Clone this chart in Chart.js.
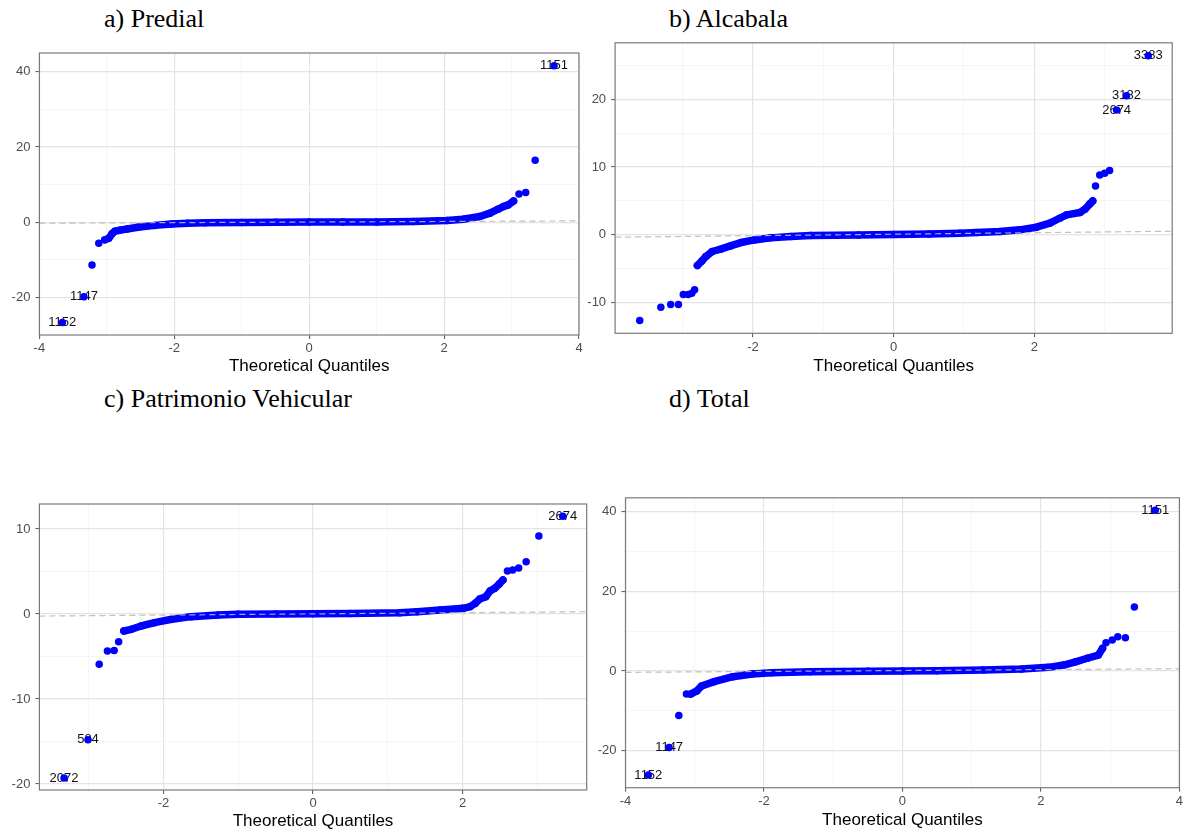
<!DOCTYPE html>
<html>
<head>
<meta charset="utf-8">
<script src="https://cdn.jsdelivr.net/npm/chart.js@4"></script>
<style>
  body { margin: 0; background: #fff; width: 1185px; height: 832px; position: relative; overflow: hidden; }
  .t { position: absolute; font-family: "Liberation Serif", "Times New Roman", serif; font-size: 26px; line-height: 26px; color: #000; white-space: nowrap; }
  canvas { position: absolute; }
</style>
</head>
<body>
<div class="t" style="left:104px;top:6px">a) Predial</div>
<div class="t" style="left:669px;top:6px">b) Alcabala</div>
<div class="t" style="left:104px;top:386px">c) Patrimonio Vehicular</div>
<div class="t" style="left:669px;top:386px">d) Total</div>

<canvas id="qqA" width="590" height="345" style="left:0;top:40px"></canvas>
<canvas id="qqB" width="600" height="355" style="left:580px;top:30px"></canvas>
<canvas id="qqC" width="595" height="342" style="left:0;top:490px"></canvas>
<canvas id="qqD" width="605" height="347" style="left:580px;top:485px"></canvas>

<script>
// a) Predial
const predialBandQ = [-3.03, -2.97, -2.92, -2.88, -2.80, -2.70, -2.54, -2.29, -2.04, -1.80, -1.55, -1.00, -0.50, 0, 0.50, 1.00, 1.54, 2.04, 2.28, 2.53, 2.68, 2.80, 2.88, 2.95, 3.03];
const predialBandRes = [-4.7, -4.25, -3.0, -2.4, -2.1, -1.8, -1.33, -0.85, -0.45, -0.27, -0.12, -0.05, 0, 0.02, 0.05, 0.08, 0.16, 0.43, 0.8, 1.5, 2.4, 3.45, 4.15, 4.6, 5.66];
const predialQ = [-3.66, -3.34, -3.22, -3.12, 3.11, 3.21, 3.35, 3.63];
const predialRes = [-26.7, -19.8, -11.4, -5.6, 7.5, 7.9, 16.5, 41.6];
const predialIds = ["1152", "1147", "", "", "", "", "", "1151"];
const predialLine = [0.04, 0.078]; // intercept, slope

// b) Alcabala
const alcabalaBandQ = [-2.79, -2.73, -2.67, -2.58, -2.46, -2.32, -2.17, -1.98, -1.75, -1.46, -1.18, -0.50, 0, 0.50, 0.94, 1.18, 1.51, 1.79, 2.03, 2.22, 2.36, 2.46, 2.65, 2.72, 2.79, 2.83];
const alcabalaBandRes = [-4.5, -3.9, -3.2, -2.45, -2.1, -1.62, -1.13, -0.74, -0.44, -0.25, -0.1, 0, 0.05, 0.12, 0.25, 0.34, 0.49, 0.74, 1.13, 1.72, 2.45, 2.95, 3.3, 3.78, 4.57, 5.0];
const alcabalaQ = [-3.61, -3.31, -3.17, -3.06, -2.99, -2.92, -2.87, -2.83, 2.87, 2.93, 3.00, 3.07, 3.17, 3.31, 3.62];
const alcabalaRes = [-12.6, -10.65, -10.26, -10.26, -8.8, -8.8, -8.6, -8.1, 7.2, 8.84, 9.08, 9.47, 18.4, 20.5, 26.4];
const alcabalaIds = ["", "", "", "", "", "", "", "", "", "", "", "", "2674", "3182", "3383"];
const alcabalaLine = [0.1, 0.111];

// c) Patrimonio Vehicular
const vehicularBandQ = [-2.53, -2.43, -2.30, -2.12, -1.89, -1.63, -1.27, -1.00, -0.50, 0, 0.50, 1.16, 1.39, 1.70, 2.01, 2.10, 2.17, 2.23, 2.31, 2.37, 2.43, 2.49, 2.54];
const vehicularBandRes = [-2.0, -1.8, -1.41, -1.02, -0.62, -0.31, -0.12, -0.04, 0, 0.03, 0.07, 0.15, 0.27, 0.47, 0.67, 0.86, 1.26, 1.76, 2.04, 2.74, 3.02, 3.53, 4.0];
const vehicularQ = [-3.33, -3.01, -2.86, -2.75, -2.66, -2.60, 2.60, 2.67, 2.75, 2.85, 3.02, 3.34];
const vehicularRes = [-19.3, -14.8, -5.9, -4.35, -4.3, -3.25, 5.06, 5.18, 5.4, 6.16, 9.18, 11.5];
const vehicularIds = ["2072", "584", "", "", "", "", "", "", "", "", "", "2674"];
const vehicularLine = [0.015, 0.07];

// d) Total
const totalBandQ = [-3.06, -2.97, -2.90, -2.72, -2.45, -2.17, -1.89, -1.33, -0.50, 0, 0.50, 1.17, 1.72, 2.11, 2.33, 2.50, 2.67, 2.83, 2.89];
const totalBandRes = [-5.8, -5.0, -3.76, -2.67, -1.42, -0.75, -0.42, -0.17, -0.05, 0, 0.05, 0.25, 0.5, 0.92, 1.5, 2.3, 3.2, 4.0, 5.7];
const totalQ = [-3.67, -3.37, -3.23, -3.12, 2.94, 3.03, 3.11, 3.22, 3.35, 3.65];
const totalRes = [-26.1, -19.2, -11.2, -5.8, 7.1, 7.8, 8.6, 8.35, 16.1, 40.35];
const totalIds = ["1152", "1147", "", "", "", "", "", "", "", "1151"];
const totalLine = [0.125, 0.114];

// axis ticks (major get a label, minor only a light grid line)
const xMajorWide = [-4, -2, 0, 2, 4];
const xMinorWide = [-3, -1, 1, 3];
const xMajorNarrow = [-2, 0, 2];
const xMinorNarrow = [-3, -1, 1, 3];
const predialYMajor = [-20, 0, 20, 40];
const predialYMinor = [-10, 10, 30];
const alcabalaYMajor = [-10, 0, 10, 20];
const alcabalaYMinor = [-5, 5, 15, 25];
const vehicularYMajor = [-20, -10, 0, 10];
const vehicularYMinor = [-15, -5, 5];
const totalYMajor = [-20, 0, 20, 40];
const totalYMinor = [-10, 10, 30];

Chart.defaults.font.family = '"Liberation Sans", Arial, sans-serif';
Chart.defaults.animation = false;

function pts(q, r) {
  return q.map((v, i) => ({ x: v, y: r[i] }));
}

const borderBox = {
  id: 'borderBox',
  afterDraw(chart) {
    const a = chart.chartArea;
    const c = chart.ctx;
    c.save();
    c.strokeStyle = '#7a7a7a';
    c.lineWidth = 1.2;
    c.strokeRect(a.left, a.top, a.right - a.left, a.bottom - a.top);
    c.restore();
  }
};

// point ids go under the dots, like in the original
const pointIds = {
  id: 'pointIds',
  beforeDatasetsDraw(chart) {
    const ds = chart.data.datasets.find(d => d.ids);
    if (!ds) return;
    const c = chart.ctx;
    const xs = chart.scales.x, ys = chart.scales.y;
    c.save();
    c.font = '13px "Liberation Sans", Arial, sans-serif';
    c.fillStyle = '#111';
    c.textAlign = 'center';
    c.textBaseline = 'middle';
    ds.data.forEach((p, i) => {
      if (ds.ids[i]) c.fillText(ds.ids[i], xs.getPixelForValue(p.x), ys.getPixelForValue(p.y));
    });
    c.restore();
  }
};

function axis(min, max, major, minor, fit, isX, extra) {
  const all = major.concat(minor).sort((a, b) => a - b);
  const isMajor = ctx => ctx.tick && major.includes(ctx.tick.value);
  const cfg = {
    type: 'linear',
    min: min,
    max: max,
    afterBuildTicks: s => { s.ticks = all.map(v => ({ value: v })); },
    ticks: {
      autoSkip: false,
      maxRotation: 0,
      padding: isX ? 2 : 5,
      color: '#4d4d4d',
      font: { size: 13 },
      callback: v => major.includes(v) ? String(v) : ''
    },
    grid: {
      color: ctx => isMajor(ctx) ? '#e4e4e4' : '#f2f2f2',
      lineWidth: ctx => isMajor(ctx) ? 1.2 : 0.8,
      tickColor: ctx => isMajor(ctx) ? '#555' : 'rgba(0,0,0,0)',
      tickWidth: 1,
      tickLength: 4
    },
    border: { display: false }
  };
  if (isX) {
    cfg.afterFit = s => { s.height = fit; };
    cfg.title = {
      display: true,
      text: 'Theoretical Quantiles',
      color: '#000',
      font: { size: 17 },
      padding: { top: 0, bottom: extra }
    };
  } else {
    cfg.afterFit = s => { s.width = fit; };
  }
  return cfg;
}

function qqChart(id, p) {
  const lineData = [
    { x: p.xMin, y: p.line[0] + p.line[1] * p.xMin },
    { x: p.xMax, y: p.line[0] + p.line[1] * p.xMax }
  ];
  new Chart(id, {
    type: 'scatter',
    data: {
      datasets: [
        {
          data: lineData,
          showLine: true,
          borderColor: 'rgba(185,185,185,0.9)',
          borderWidth: 1.2,
          borderDash: [6, 4],
          pointRadius: 0
        },
        {
          data: pts(p.bandQ, p.bandRes),
          showLine: true,
          borderColor: '#0000ff',
          backgroundColor: '#0000ff',
          borderWidth: 7.5,
          borderCapStyle: 'round',
          borderJoinStyle: 'round',
          pointRadius: 3.75,
          pointBorderWidth: 0
        },
        {
          data: pts(p.q, p.res),
          ids: p.ids,
          backgroundColor: '#0000ff',
          borderColor: '#0000ff',
          pointRadius: 3.75,
          pointBorderWidth: 0
        }
      ]
    },
    options: {
      responsive: false,
      devicePixelRatio: 1,
      layout: { padding: { top: p.padT, right: p.padR, left: 0, bottom: 0 } },
      plugins: { legend: { display: false }, tooltip: { enabled: false } },
      scales: {
        x: axis(p.xMin, p.xMax, p.xMajor, p.xMinor, p.xH, true, p.titleB),
        y: axis(p.yMin, p.yMax, p.yMajor, p.yMinor, p.yW, false)
      }
    },
    plugins: [borderBox, pointIds]
  });
}

qqChart('qqA', {
  bandQ: predialBandQ, bandRes: predialBandRes, q: predialQ, res: predialRes, ids: predialIds, line: predialLine,
  xMin: -4, xMax: 4, yMin: -30, yMax: 45,
  xMajor: xMajorWide, xMinor: xMinorWide, yMajor: predialYMajor, yMinor: predialYMinor,
  padT: 13, padR: 11, yW: 39.4, xH: 50, titleB: 8
});

qqChart('qqB', {
  bandQ: alcabalaBandQ, bandRes: alcabalaBandRes, q: alcabalaQ, res: alcabalaRes, ids: alcabalaIds, line: alcabalaLine,
  xMin: -3.96, xMax: 3.96, yMin: -14.5, yMax: 28.3,
  xMajor: xMajorNarrow, xMinor: xMinorNarrow, yMajor: alcabalaYMajor, yMinor: alcabalaYMinor,
  padT: 12.7, padR: 7.8, yW: 35.1, xH: 51.7, titleB: 8
});

qqChart('qqC', {
  bandQ: vehicularBandQ, bandRes: vehicularBandRes, q: vehicularQ, res: vehicularRes, ids: vehicularIds, line: vehicularLine,
  xMin: -3.66, xMax: 3.66, yMin: -20.7, yMax: 12.94,
  xMajor: xMajorNarrow, xMinor: xMinorNarrow, yMajor: vehicularYMajor, yMinor: vehicularYMinor,
  padT: 14, padR: 8.3, yW: 39.4, xH: 42, titleB: 0
});

qqChart('qqD', {
  bandQ: totalBandQ, bandRes: totalBandRes, q: totalQ, res: totalRes, ids: totalIds, line: totalLine,
  xMin: -4, xMax: 4, yMin: -29.3, yMax: 43.5,
  xMajor: xMajorWide, xMinor: xMinorWide, yMajor: totalYMajor, yMinor: totalYMinor,
  padT: 12.3, padR: 2.4, yW: 45.5, xH: 44.3, titleB: 1
});
</script>
</body>
</html>
